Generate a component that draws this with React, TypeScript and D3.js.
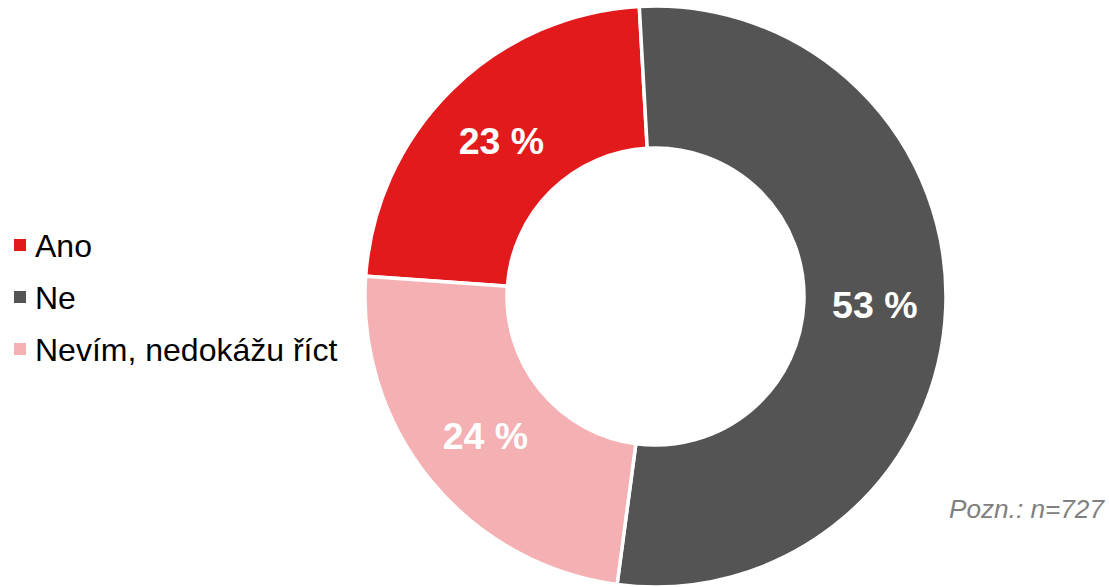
import React from "react";
import * as d3 from "d3";

const categories = ["Ano", "Ne", "Nevím, nedokážu říct"];
const values = [23, 53, 24];
const labels = ["23 %", "53 %", "24 %"];
const colors = ["#E31A1C", "#545454", "#F4B0B2"];
const note = "Pozn.: n=727";

export default function App() {
  const W = 1109, H = 587;
  const cx = 655.5, cy = 296.5;
  const outerR = 290.5, innerR = 148.5;
  const pie = d3.pie<number>().sort(null).startAngle((-86 * Math.PI) / 180).endAngle((274 * Math.PI) / 180);
  const arcs = pie(values);
  const arc = d3.arc<d3.PieArcDatum<number>>().innerRadius(innerR).outerRadius(outerR);
  const legendY = d3.scalePoint<string>().domain(categories).range([245, 349]);
  return (
    <svg width={W} height={H} style={{ position: "absolute", left: 0, top: 0, fontFamily: "Liberation Sans, Arial, sans-serif" }}>
      <rect width={W} height={H} fill="#fff" />
      <g transform={`translate(${cx},${cy})`}>
        {arcs.map((a, i) => (
          <path key={i} d={arc(a) || ""} fill={colors[i]} stroke="#fff" strokeWidth={3.5} />
        ))}
        {arcs.map((a, i) => {
          const [x, y] = arc.centroid(a);
          return (
            <text key={i} x={x} y={y} dy="0.36em" textAnchor="middle" fill="#fff" fontWeight="bold" fontSize={37.5}>
              {labels[i]}
            </text>
          );
        })}
      </g>
      {categories.map((c, i) => (
        <g key={c} transform={`translate(0,${legendY(c)})`}>
          <rect x={14} y={-6} width={12} height={12} fill={colors[i]} />
          <text x={35} y={0} dy="0.36em" fontSize={32} fill="#000">{c}</text>
        </g>
      ))}
      <text x={1104} y={518} textAnchor="end" fontSize={26.2} fontStyle="italic" fill="#808080">{note}</text>
    </svg>
  );
}
